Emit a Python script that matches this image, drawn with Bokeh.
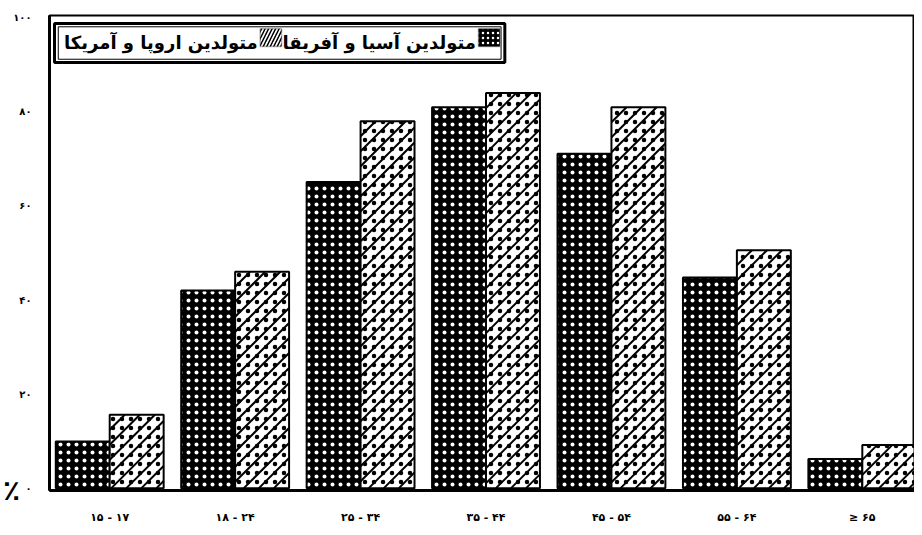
from bokeh.plotting import figure
from bokeh.models import Range1d, FixedTicker, Label, BoxAnnotation
from bokeh.embed import file_html
from bokeh.resources import INLINE

# ---- data ----
age_groups = ["۱۵ - ۱۷", "۱۸ - ۲۴", "۲۵ - ۳۴", "۳۵ - ۴۴", "۴۵ - ۵۴", "۵۵ - ۶۴", "≥ ۶۵"]
asia_africa = [9.9, 42.0, 65.1, 81.0, 71.1, 44.8, 6.2]        # dark bars
europe_america = [15.6, 46.0, 78.0, 84.0, 81.0, 50.6, 9.2]    # hatched bars
y_ticks = [0, 20, 40, 60, 80, 100]
y_tick_labels = ["۰", "۲۰", "۴۰", "۶۰", "۸۰", "۱۰۰"]
legend_asia = "متولدین آسیا و آفریقا"
legend_europe = "متولدین اروپا و آمریکا"
percent_sign = "٪"

FONT = "DejaVu Sans"
X_START, X_END = -0.48, 6.416
Y_START, Y_END = -0.5, 100.5
FRAME_W, FRAME_H = 862, 475
xs = list(range(len(age_groups)))
bw = 0.43
x_dark = [x - bw / 2 for x in xs]
x_light = [x + bw / 2 for x in xs]

p = figure(width=914, height=527, output_backend="svg", toolbar_location=None,
           x_range=Range1d(X_START, X_END), y_range=Range1d(Y_START, Y_END),
           min_border_left=48, min_border_right=0, min_border_top=15, min_border_bottom=37)

p.background_fill_color = "white"
p.border_fill_color = "white"
p.outline_line_color = "black"
p.outline_line_width = 2
p.grid.visible = False

# dark bars: black with white dots
p.vbar(x=x_dark, top=asia_africa, width=bw, bottom=0,
       fill_color="black", line_color="black", line_width=2,
       hatch_pattern="dot", hatch_color="white", hatch_scale=8, hatch_weight=1.4)

# light bars: white, dots, 45-degree diagonal hatching, black outline
p.vbar(x=x_light, top=europe_america, width=bw, bottom=0,
       fill_color="white", line_color=None,
       hatch_pattern="dot", hatch_color="black", hatch_scale=9, hatch_weight=1.6)

px_x = FRAME_W / (X_END - X_START)
px_y = FRAME_H / (Y_END - Y_START)
spacing = 15.0
sx0, sy0, sx1, sy1 = [], [], [], []
for xc, top in zip(x_light, europe_america):
    left = xc - bw / 2
    W = bw * px_x
    H = top * px_y
    c = -H
    while c < W:
        u0 = max(0.0, c)
        u1 = min(W, H + c)
        if u1 > u0:
            sx0.append(left + u0 / px_x); sy0.append((u0 - c) / px_y)
            sx1.append(left + u1 / px_x); sy1.append((u1 - c) / px_y)
        c += spacing
p.segment(x0=sx0, y0=sy0, x1=sx1, y1=sy1, line_color="black", line_width=2)
p.vbar(x=x_light, top=europe_america, width=bw, bottom=0,
       fill_color=None, line_color="black", line_width=2)

# axes
p.xaxis.ticker = FixedTicker(ticks=xs)
p.xaxis.major_label_overrides = {x: lab for x, lab in zip(xs, age_groups)}
p.yaxis.ticker = FixedTicker(ticks=y_ticks)
p.yaxis.major_label_overrides = {t: lab for t, lab in zip(y_ticks, y_tick_labels)}
for ax in (p.xaxis, p.yaxis):
    ax.axis_line_color = "black"
    ax.axis_line_width = 3
    ax.major_tick_line_color = None
    ax.minor_tick_line_color = None
    ax.major_label_text_font = FONT
    ax.major_label_text_font_style = "bold"
    ax.major_label_text_color = "black"
p.xaxis.major_label_text_font_size = "11px"
p.yaxis.major_label_text_font_size = "10px"
p.xaxis.major_label_standoff = 14
p.yaxis.major_label_standoff = 12

# percent sign as the y-axis label, at the bottom-left
p.yaxis.axis_label = percent_sign
p.yaxis.axis_label_orientation = "horizontal"
p.yaxis.axis_label_align = "start"
p.yaxis.axis_label_standoff = -10
p.yaxis.axis_label_text_font = FONT
p.yaxis.axis_label_text_font_style = "bold"
p.yaxis.axis_label_text_font_size = "28px"
p.yaxis.axis_label_text_color = "black"
p.yaxis.axis_label_text_baseline = "top"

# legend box (custom, right-to-left order)
p.add_layout(BoxAnnotation(left=-0.44, right=3.15, top=98.8, bottom=90.5,
                           fill_color="white", fill_alpha=1, line_color="black", line_width=3,
                           line_alpha=1))
p.add_layout(BoxAnnotation(left=-0.41, right=3.12, top=98.1, bottom=91.2,
                           fill_color=None, line_color="black", line_width=1, line_alpha=1))
p.add_layout(BoxAnnotation(left=2.94, right=3.11, top=97.7, bottom=93.9,
                           fill_color="black", fill_alpha=1, line_color="black", line_width=1.5,
                           hatch_pattern="dot", hatch_color="white", hatch_scale=5, hatch_weight=1.5))
p.add_layout(BoxAnnotation(left=1.20, right=1.37, top=97.7, bottom=93.9,
                           fill_color="white", fill_alpha=1, line_color="black", line_width=1.5,
                           hatch_pattern="right_diagonal_line", hatch_color="black", hatch_scale=7,
                           hatch_weight=1.5))
p.add_layout(Label(x=2.92, y=94.7, text=legend_asia, text_font=FONT, text_font_style="bold",
                   text_color="black", text_font_size="18px", text_align="right",
                   text_baseline="middle"))
p.add_layout(Label(x=1.18, y=94.7, text=legend_europe, text_font=FONT, text_font_style="bold",
                   text_color="black", text_font_size="18px", text_align="right",
                   text_baseline="middle"))

open("out.html", "w").write(file_html(p, INLINE))
